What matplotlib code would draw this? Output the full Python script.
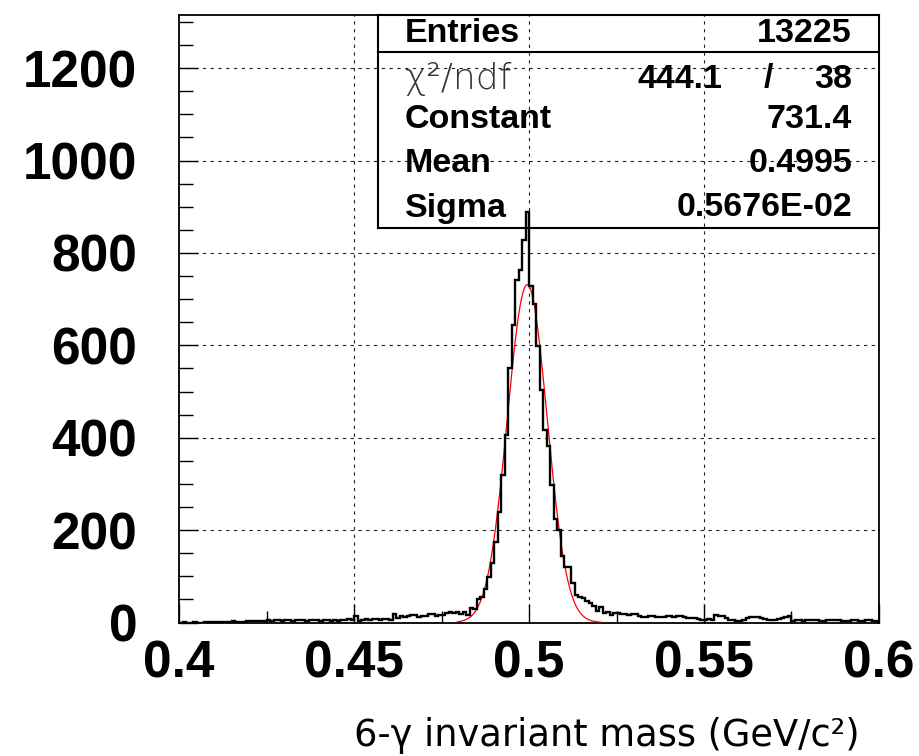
import numpy as np
import matplotlib
matplotlib.use("Agg")
import matplotlib.pyplot as plt
from matplotlib.ticker import FixedLocator, MultipleLocator
from matplotlib.lines import Line2D

# ---------------- data ----------------
x_lo, x_hi, n_bins = 0.4, 0.6, 200
counts = [
    # 0.400 - 0.439
    0, 1, 0, 0, 1, 0, 0, 1, 2, 1, 2, 2, 1, 2, 2, 3, 2, 1, 2, 3,
    4, 3, 4, 4, 3, 5, 4, 6, 5, 4, 5, 6, 4, 5, 6, 5, 4, 6, 5, 5,
    # 0.440 - 0.479
    4, 5, 6, 4, 5, 4, 6, 5, 7, 5, 14, 3, 6, 7, 6, 8, 7, 6, 7, 8,
    6, 19, 10, 13, 12, 13, 17, 16, 12, 13, 15, 19, 18, 14, 17, 16, 21, 22, 20, 23,
    # 0.480 - 0.499
    19, 22, 16, 32, 30, 50, 56, 72, 98, 128, 175, 240, 320, 405, 551, 643, 742, 762, 829, 889,
    # 0.500 - 0.525
    729, 690, 598, 504, 417, 381, 298, 224, 200, 144, 121, 121, 85, 60, 56, 52, 46, 42, 36, 25,
    33, 20, 22, 17, 21, 20,
    # 0.526 - 0.599
    19, 18, 16, 19, 18, 14, 12, 12, 14, 13, 11, 12, 12, 15, 15, 12, 14, 14, 12, 10,
    10, 9, 8, 5, 6, 7, 6, 17, 15, 13, 9, 6, 5, 4, 4, 6, 10, 11, 12, 11,
    9, 8, 6, 5, 5, 8, 9, 12, 13, 4, 5, 5, 4, 6, 6, 5, 5, 4, 4, 5,
    5, 6, 6, 4, 4, 3, 6, 6, 4, 4, 5, 5, 4, 4,
]

fit_constant = 731.4
fit_mean = 0.4995
fit_sigma = 0.5676e-02
fit_range = (0.4795, 0.5205)

stats_names = ["Entries", "Constant", "Mean", "Sigma"]
stats_values = ["13225", "731.4", "0.4995", "0.5676E-02"]
chi2_label = "χ²/ndf"
chi2_value = "444.1"
ndf_value = "38"

x_ticks = [0.4, 0.45, 0.5, 0.55, 0.6]
x_tick_labels = ["0.4", "0.45", "0.5", "0.55", "0.6"]
y_ticks = [0, 200, 400, 600, 800, 1000, 1200]
y_tick_labels = ["0", "200", "400", "600", "800", "1000", "1200"]
x_label = "6-γ invariant mass (GeV/c²)"
y_max = 1315

# ---------------- figure ----------------
W, H = 919, 756
fig = plt.figure(figsize=(W / 100, H / 100), dpi=100)
ax_left, ax_right, ax_top, ax_bottom = 179, 879, 15, 622.5
ax = fig.add_axes([ax_left / W, 1 - ax_bottom / H,
                   (ax_right - ax_left) / W, (ax_bottom - ax_top) / H])

edges = np.linspace(x_lo, x_hi, n_bins + 1)

# grid
for xv in x_ticks[1:-1]:
    ax.axvline(xv, color="#222222", lw=0.8, ls=(0, (3, 4)), zorder=1)
for yv in y_ticks[1:]:
    ax.axhline(yv, color="#222222", lw=0.8, ls=(0, (3, 4)), zorder=1)

# fitted gaussian
xs = np.linspace(fit_range[0], fit_range[1], 600)
ys = fit_constant * np.exp(-0.5 * ((xs - fit_mean) / fit_sigma) ** 2)
ax.plot(xs, ys, color="red", lw=0.9, zorder=3)

# histogram
ax.stairs(counts, edges, color="black", lw=1.7, baseline=None, zorder=4)

ax.set_xlim(x_lo, x_hi)
ax.set_ylim(0, y_max)

for sp in ax.spines.values():
    sp.set_linewidth(1.3)
    sp.set_color("black")

ax.xaxis.set_major_locator(FixedLocator(x_ticks))
ax.xaxis.set_minor_locator(MultipleLocator(0.025))
ax.yaxis.set_major_locator(FixedLocator(y_ticks))
ax.yaxis.set_minor_locator(MultipleLocator(50))
ax.set_xticklabels(x_tick_labels)
ax.set_yticklabels(y_tick_labels)

for lab in ax.get_xticklabels() + ax.get_yticklabels():
    lab.set_fontfamily("Liberation Sans")
    lab.set_fontweight("bold")
    lab.set_fontsize(37)

ax.tick_params(axis="both", which="both", direction="in", top=False, right=False,
               colors="black")
ax.tick_params(axis="x", which="major", length=14, width=1.0, pad=12)
ax.tick_params(axis="x", which="minor", length=9, width=1.0)
ax.tick_params(axis="y", which="major", length=14, width=1.0, pad=30)
ax.tick_params(axis="y", which="minor", length=10, width=1.0)

# stats box (transparent)
def fx(px):
    return px / W

def fy(py):
    return 1 - py / H

box_l, box_r, box_t, box_b, box_div = 378, 879, 15, 227.5, 52
for (x0, y0, x1, y1) in [(box_l, box_t, box_r, box_t), (box_l, box_b, box_r, box_b),
                         (box_l, box_t, box_l, box_b), (box_r, box_t, box_r, box_b),
                         (box_l, box_div, box_r, box_div)]:
    fig.add_artist(Line2D([fx(x0), fx(x1)], [fy(y0), fy(y1)], color="black", lw=1.5,
                          transform=fig.transFigure, zorder=6))

stat_font = dict(family="Liberation Sans", weight="bold", size=24.5, color="black")
row_y = {"Entries": 33, "chi": 79, "Constant": 119, "Mean": 163, "Sigma": 208}
text_left, text_right = 405, 852
for name, val in zip(stats_names, stats_values):
    fig.text(fx(text_left), fy(row_y[name]), name, ha="left", va="center", **stat_font)
    fig.text(fx(text_right), fy(row_y[name]), val, ha="right", va="center", **stat_font)
fig.text(fx(text_left), fy(row_y["chi"]), chi2_label, ha="left", va="center",
         family="DejaVu Sans", weight="light", size=26, color="#333333")
fig.text(fx(722), fy(row_y["chi"]), chi2_value, ha="right", va="center", **stat_font)
fig.text(fx(768), fy(row_y["chi"]), "/", ha="center", va="center", **stat_font)
fig.text(fx(text_right), fy(row_y["chi"]), ndf_value, ha="right", va="center", **stat_font)

# x axis title
fig.text(fx(860), fy(735), x_label, ha="right", va="center",
         family="DejaVu Sans", size=26.5, color="black")

fig.savefig("out.png", dpi=100)
